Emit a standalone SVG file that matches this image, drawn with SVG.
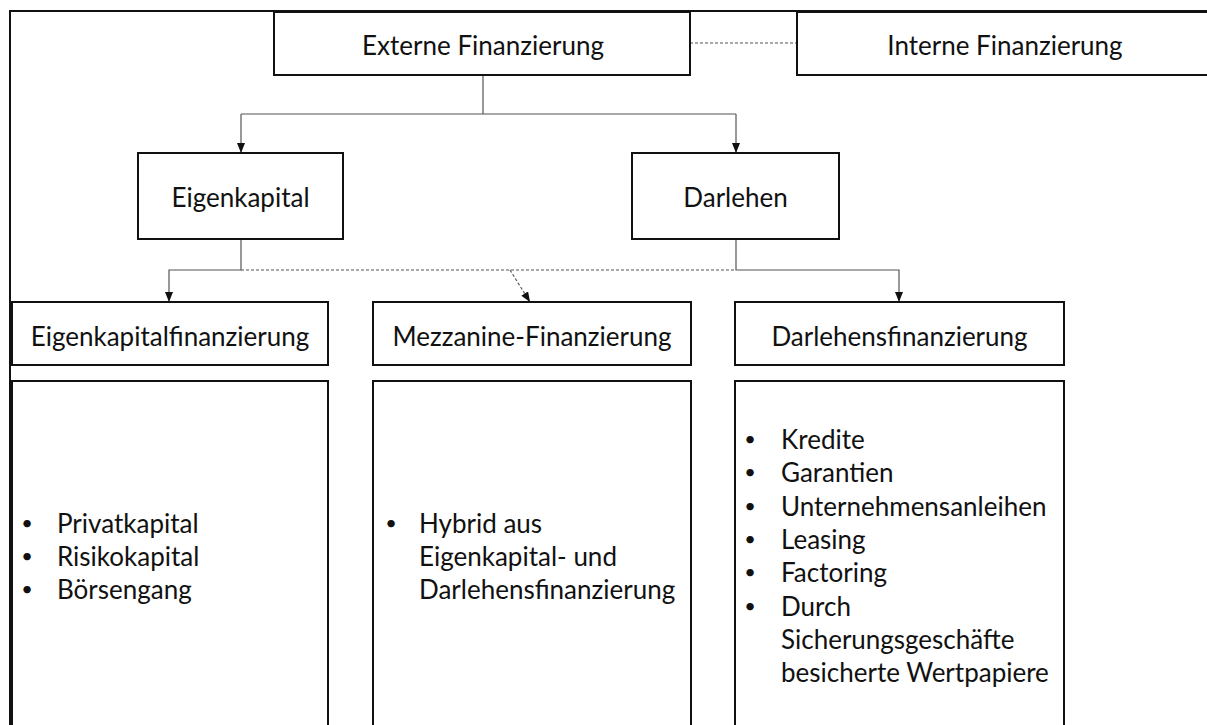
<svg xmlns="http://www.w3.org/2000/svg" width="1207" height="725" viewBox="0 0 1207 725">
<style>
.box{fill:#fff;stroke:#111;stroke-width:2}
.frame{fill:none;stroke:#111;stroke-width:2}
.t{font-family:Lato,"Liberation Sans",sans-serif;font-size:26px;fill:#111}
.c{text-anchor:middle}
.b{font-family:Lato,"Liberation Sans",sans-serif;font-size:20px;fill:#111;text-anchor:middle}
.con{fill:none;stroke:#555;stroke-width:1.2}
.dash{fill:none;stroke:#555;stroke-width:1.2;stroke-dasharray:3,2}
</style>
<defs>
<marker id="ah" viewBox="0 0 10 8" refX="10" refY="4" markerWidth="10" markerHeight="8" markerUnits="userSpaceOnUse" orient="auto">
<path d="M0,0 L10,4 L0,8 z" fill="#111"/>
</marker>
</defs>
<rect width="1207" height="725" fill="#fff"/>
<rect class="frame" x="10" y="11" width="1220" height="740"/>
<g id="connectors">
<line class="dash" x1="690" y1="43" x2="797" y2="43"/>
<polyline class="con" points="483,75 483,114"/>
<polyline class="con" points="241,114 736,114"/>
<line class="con" x1="241" y1="114" x2="241" y2="153" marker-end="url(#ah)"/>
<line class="con" x1="736" y1="114" x2="736" y2="153" marker-end="url(#ah)"/>
<polyline class="con" points="241,239 241,270 169,270 169,302" marker-end="url(#ah)"/>
<polyline class="con" points="736,239 736,270 899,270 899,302" marker-end="url(#ah)"/>
<line class="dash" x1="241" y1="270" x2="736" y2="270"/>
<line class="dash" x1="510" y1="270" x2="530" y2="302" marker-end="url(#ah)"/>
</g>
<g id="externe">
<rect class="box" x="274" y="12" width="416" height="63"/>
<text class="t c" x="483" y="55">Externe Finanzierung</text>
</g>
<g id="interne">
<rect class="box" x="797" y="12" width="430" height="63"/>
<text class="t c" x="1005" y="55">Interne Finanzierung</text>
</g>
<g id="eigenkapital">
<rect class="box" x="138" y="153" width="205" height="86"/>
<text class="t c" x="240.5" y="207">Eigenkapital</text>
</g>
<g id="darlehen">
<rect class="box" x="632" y="153" width="207" height="86"/>
<text class="t c" x="735.5" y="207">Darlehen</text>
</g>
<g id="eigenkapitalfinanzierung">
<rect class="box" x="12" y="302" width="316" height="63"/>
<text class="t c" x="170" y="346">Eigenkapitalfinanzierung</text>
</g>
<g id="mezzanine">
<rect class="box" x="373" y="302" width="318" height="63"/>
<text class="t c" x="532" y="346">Mezzanine-Finanzierung</text>
</g>
<g id="darlehensfinanzierung">
<rect class="box" x="735" y="302" width="329" height="63"/>
<text class="t c" x="899.5" y="346">Darlehensfinanzierung</text>
</g>
<g id="eigen-liste">
<rect class="box" x="12" y="381" width="316" height="360"/>
<text class="b" x="27" y="530">•</text><text class="t" x="57" y="533">Privatkapital</text>
<text class="b" x="27" y="563">•</text><text class="t" x="57" y="566">Risikokapital</text>
<text class="b" x="27" y="596">•</text><text class="t" x="57" y="599">Börsengang</text>
</g>
<g id="mezz-liste">
<rect class="box" x="373" y="381" width="318" height="360"/>
<text class="b" x="391" y="530">•</text><text class="t" x="419" y="533">Hybrid aus</text>
<text class="t" x="419" y="566">Eigenkapital- und</text>
<text class="t" x="419" y="599">Darlehensfinanzierung</text>
</g>
<g id="darlehen-liste">
<rect class="box" x="735" y="381" width="329" height="360"/>
<text class="b" x="750" y="446">•</text><text class="t" x="781" y="449">Kredite</text>
<text class="b" x="750" y="479">•</text><text class="t" x="781" y="482">Garantien</text>
<text class="b" x="750" y="513">•</text><text class="t" x="781" y="516">Unternehmensanleihen</text>
<text class="b" x="750" y="546">•</text><text class="t" x="781" y="549">Leasing</text>
<text class="b" x="750" y="579">•</text><text class="t" x="781" y="582">Factoring</text>
<text class="b" x="750" y="613">•</text><text class="t" x="781" y="616">Durch</text>
<text class="t" x="781" y="649">Sicherungsgeschäfte</text>
<text class="t" x="781" y="682">besicherte Wertpapiere</text>
</g>
</svg>
